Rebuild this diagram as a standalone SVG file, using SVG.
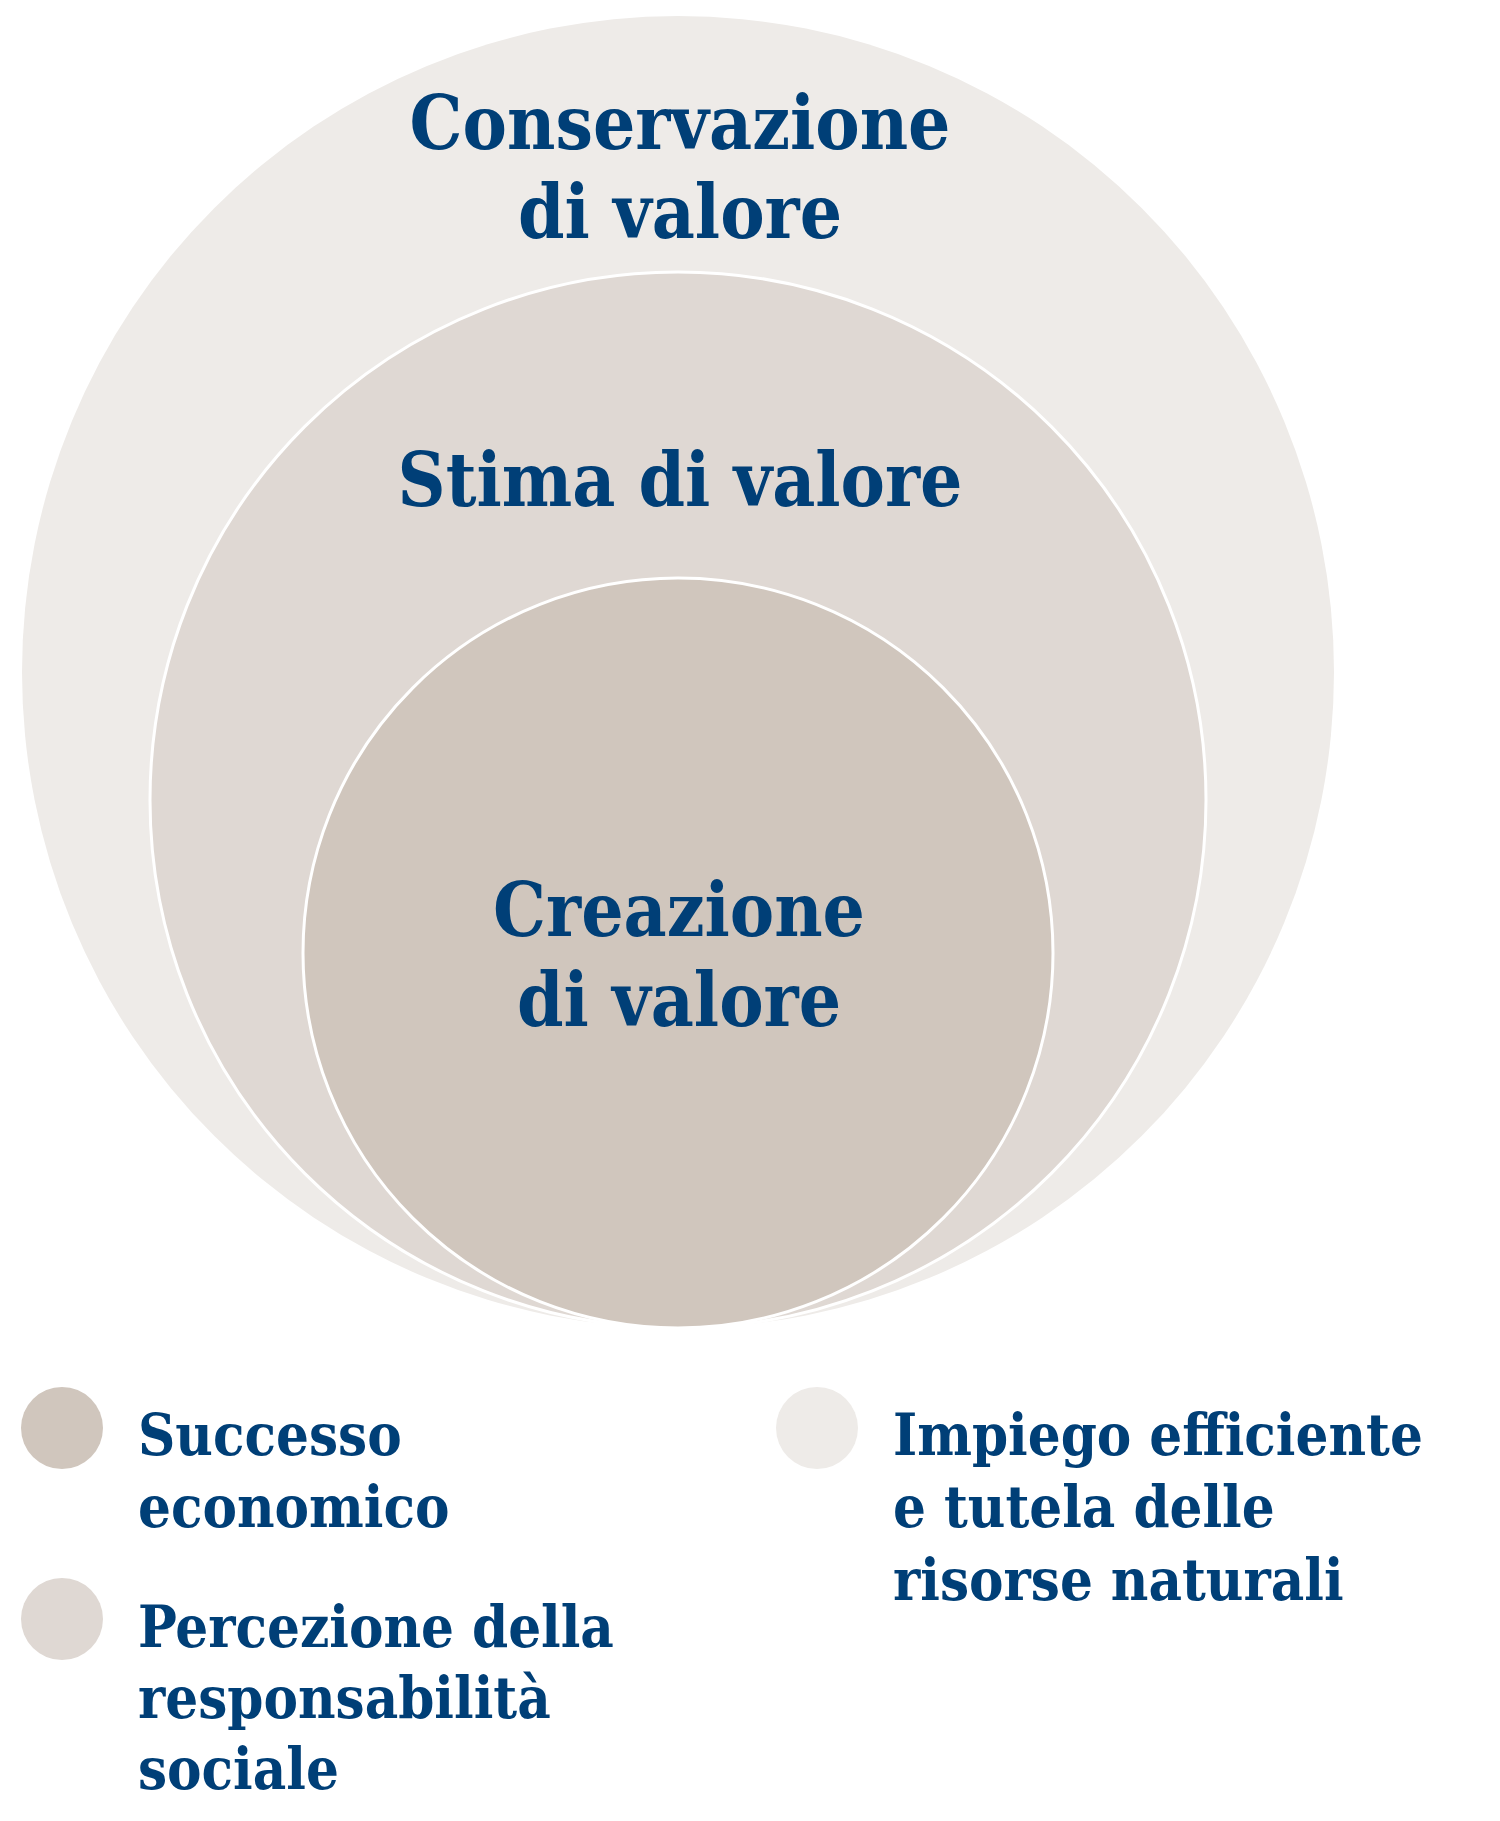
<svg xmlns="http://www.w3.org/2000/svg" width="1500" height="1821" viewBox="0 0 1500 1821">
<style>
.t{font-family:"DejaVu Serif Condensed","DejaVu Serif",serif;font-stretch:condensed;font-weight:bold;fill:#003f77}
.h{font-size:74px;text-anchor:middle}
.l{font-size:57.5px}
.ring{stroke:#ffffff;stroke-width:3}
</style>
<rect x="0" y="0" width="1500" height="1821" fill="#ffffff"/>
<g id="outer">
<circle cx="678" cy="672" r="656" fill="#eeebe8"/>
<text class="t h" x="680" y="149">Conservazione</text>
<text class="t h" x="680" y="238">di valore</text>
</g>
<g id="middle">
<circle class="ring" cx="678" cy="800" r="528" fill="#dfd8d3"/>
<text class="t h" x="680" y="506">Stima di valore</text>
</g>
<g id="inner">
<circle class="ring" cx="678" cy="953" r="375" fill="#d0c6bd"/>
<text class="t h" x="679" y="936">Creazione</text>
<text class="t h" x="679" y="1026">di valore</text>
</g>
<g id="connectors"></g>
<g id="legend-1">
<circle cx="62" cy="1428" r="41" fill="#d0c6bd"/>
<text class="t l" x="138" y="1455">Successo</text>
<text class="t l" x="138" y="1527">economico</text>
</g>
<g id="legend-2">
<circle cx="62" cy="1619" r="41" fill="#dfd8d3"/>
<text class="t l" x="138" y="1647">Percezione della</text>
<text class="t l" x="138" y="1718">responsabilità</text>
<text class="t l" x="138" y="1789">sociale</text>
</g>
<g id="legend-3">
<circle cx="817" cy="1428" r="41" fill="#eeebe8"/>
<text class="t l" x="893" y="1455">Impiego efficiente</text>
<text class="t l" x="893" y="1527">e tutela delle</text>
<text class="t l" x="893" y="1600">risorse naturali</text>
</g>
</svg>
